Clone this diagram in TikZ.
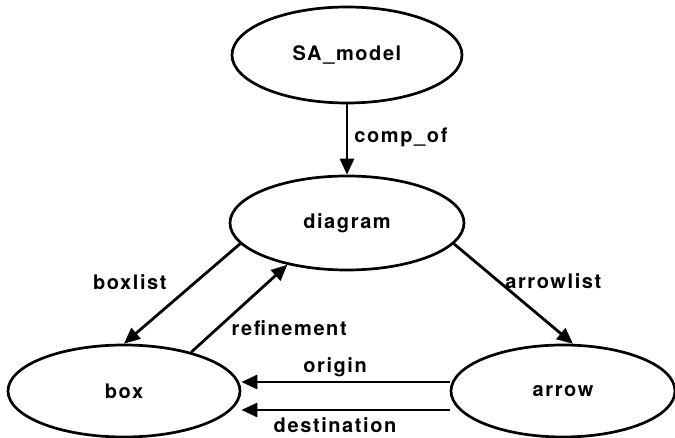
\documentclass[tikz,border=0pt]{standalone}
\usepackage{fontspec}
\setmainfont{TeX Gyre Heros}[LetterSpace=8]
\usepackage{tikz}
\usetikzlibrary{shapes.geometric,arrows.meta}
\tikzset{
    entity/.style={ellipse, draw, line width=2.7pt, inner sep=0pt,
        font=\bfseries\fontsize{20}{22}\selectfont},
    rel/.style={-{Triangle[length=16pt,width=14pt]}, line width=2.8pt},
    lbl/.style={inner sep=0pt, font=\bfseries\fontsize{20}{22}\selectfont}
}

\begin{document}
\begin{tikzpicture}[x=1pt,y=1pt]
    \useasboundingbox (0,0) rectangle (675,438);
    \node[entity, minimum width=230pt, minimum height=96pt] (model) at (347,383) {SA\_model};
    \node[entity, minimum width=234pt, minimum height=94pt] (diagram) at (347,215) {diagram};
    \node[entity, minimum width=232pt, minimum height=92pt] (box) at (124,47) {box};
    \node[entity, minimum width=224pt, minimum height=92pt] (arrow) at (563,47) {arrow};

    \draw[rel] (model) -- node[lbl, pos=.47, right=6pt] {comp\_of} (diagram);
    \draw[rel] (diagram.191) -- node[lbl, pos=.38, left=28pt] {boxlist} (box.north);
    \draw[rel] (box.30) -- node[lbl, pos=.27, right=13pt] {refinement} (diagram.215);
    \draw[rel] (diagram.349) -- node[lbl, pos=.37, right=6pt] {arrowlist} (arrow.78);
    \draw[rel] ([yshift=9pt]arrow.west) -- node[lbl, pos=.55, above=4pt] {origin}
        ([yshift=9pt]arrow.west -| box.east);
    \draw[rel] ([yshift=-19pt]arrow.west) -- node[lbl, pos=.55, below=6pt] {destination}
        ([yshift=-19pt]arrow.west -| box.east);
\end{tikzpicture}
\end{document}
